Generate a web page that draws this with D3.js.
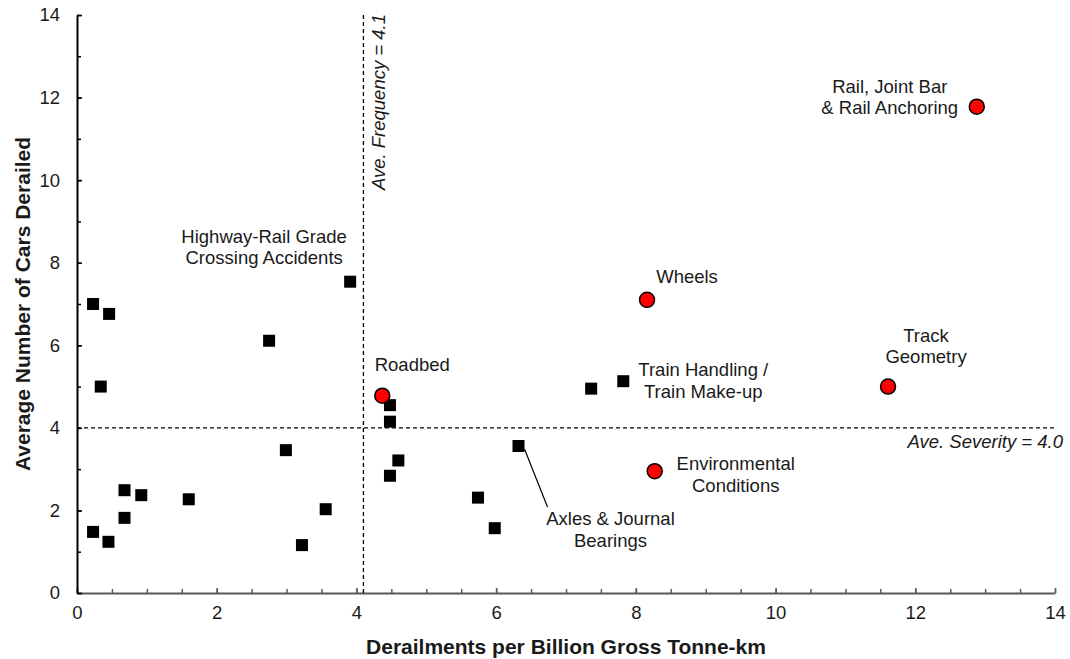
<!DOCTYPE html>
<html>
<head>
<meta charset="utf-8">
<script src="https://cdn.jsdelivr.net/npm/d3@7"></script>
<style>
  body { margin: 0; background: #fff; }
  text { font-family: Arial, "Liberation Sans", sans-serif; fill: #1a1a1a; }
</style>
</head>
<body>
<svg width="1070" height="659"></svg>
<script>
// other causes (black squares)
var squareX = [0.23, 0.46, 0.34, 0.23, 0.45, 0.68, 0.68, 0.92, 1.60, 2.75, 2.99, 3.22, 3.56, 3.91,
  4.48, 4.48, 4.60, 4.48, 5.74, 5.98, 6.32, 7.36, 7.82];
var squareY = [7.00, 6.76, 5.00, 1.48, 1.24, 2.49, 1.82, 2.37, 2.27, 6.11, 3.46, 1.16, 2.03, 7.54,
  4.55, 4.15, 3.21, 2.84, 2.31, 1.57, 3.56, 4.95, 5.13];

// infrastructure & rolling stock causes (red circles)
var circleNames = ["Roadbed", "Wheels", "Rail, Joint Bar & Rail Anchoring", "Track Geometry", "Environmental Conditions"];
var circleX = [4.37, 8.16, 12.88, 11.61, 8.27];
var circleY = [4.78, 7.10, 11.78, 5.00, 2.95];

var aveFrequency = 4.1;
var aveSeverity = 4.0;

var xTicks = [0, 2, 4, 6, 8, 10, 12, 14];
var yTicks = [0, 2, 4, 6, 8, 10, 12, 14];

// label text, which point it sits next to, and pixel offset from that point
var notes = [
  { kind: "c", i: 0, lines: ["Roadbed"], dx: 30, dy: -25 },
  { kind: "c", i: 1, lines: ["Wheels"], dx: 40, dy: -17 },
  { kind: "c", i: 2, lines: ["Rail, Joint Bar", "& Rail Anchoring"], dx: -87, dy: -14 },
  { kind: "c", i: 3, lines: ["Track", "Geometry"], dx: 38, dy: -45 },
  { kind: "c", i: 4, lines: ["Environmental", "Conditions"], dx: 81, dy: -1 },
  { kind: "s", i: 13, lines: ["Highway-Rail Grade", "Crossing Accidents"], dx: -86, dy: -39 },
  { kind: "s", i: 22, lines: ["Train Handling /", "Train Make-up"], dx: 80, dy: -5 },
  { kind: "s", i: 20, lines: ["Axles & Journal", "Bearings"], dx: 92, dy: 79, leader: [6, 3, 29, 61] }
];

var svg = d3.select("svg");
var plotL = 77, plotR = 1055, plotT = 15, plotB = 593;

var x = d3.scaleLinear().domain([0, 14]).range([plotL, plotR]);
var y = d3.scaleLinear().domain([0, 14]).range([plotB, plotT]);

// minor ticks
svg.append("g")
  .attr("transform", "translate(0," + plotB + ")")
  .call(d3.axisBottom(x).tickValues(d3.range(0, 14.01, 0.5)).tickSize(-4).tickFormat(""))
  .call(function (g) { g.select(".domain").remove(); })
  .selectAll("line").attr("stroke", "#595959").attr("stroke-width", 1.5);

svg.append("g")
  .attr("transform", "translate(" + plotL + ",0)")
  .call(d3.axisLeft(y).tickValues(d3.range(0, 14.01, 1)).tickSize(-4).tickFormat(""))
  .call(function (g) { g.select(".domain").remove(); })
  .selectAll("line").attr("stroke", "#000").attr("stroke-width", 1.5);

// major ticks + labels
var xAxis = svg.append("g")
  .attr("transform", "translate(0," + plotB + ")")
  .call(d3.axisBottom(x).tickValues(xTicks).tickSize(-5).tickPadding(13).tickSizeOuter(0));
xAxis.select(".domain").attr("stroke", "#595959").attr("stroke-width", 2);
xAxis.selectAll("line").attr("stroke", "#595959").attr("stroke-width", 1.5);
xAxis.selectAll("text").style("font-size", "18.5px").style("fill", "#1a1a1a")
  .style("font-family", "Arial, 'Liberation Sans', sans-serif");

var yAxis = svg.append("g")
  .attr("transform", "translate(" + plotL + ",0)")
  .call(d3.axisLeft(y).tickValues(yTicks).tickSize(-5).tickPadding(17).tickSizeOuter(0));
yAxis.select(".domain").attr("stroke", "#000").attr("stroke-width", 2);
yAxis.selectAll("line").attr("stroke", "#000").attr("stroke-width", 1.5);
yAxis.selectAll("text").style("font-size", "18.5px").style("fill", "#1a1a1a")
  .style("font-family", "Arial, 'Liberation Sans', sans-serif");

// average lines
svg.append("line")
  .attr("x1", x(aveFrequency)).attr("x2", x(aveFrequency))
  .attr("y1", y(0)).attr("y2", y(14))
  .attr("stroke", "#000").attr("stroke-width", 1.3).attr("stroke-dasharray", "4,3");

svg.append("line")
  .attr("x1", x(0)).attr("x2", x(14))
  .attr("y1", y(aveSeverity)).attr("y2", y(aveSeverity))
  .attr("stroke", "#000").attr("stroke-width", 1.3).attr("stroke-dasharray", "4,3");

svg.append("text")
  .attr("transform", "translate(" + (x(aveFrequency) + 22) + "," + (y(14) - 1) + ") rotate(-90)")
  .attr("text-anchor", "end")
  .style("font-size", "18.5px").style("font-style", "italic")
  .text("Ave. Frequency = " + aveFrequency.toFixed(1));

svg.append("text")
  .attr("x", 1063).attr("y", y(aveSeverity) + 20)
  .attr("text-anchor", "end")
  .style("font-size", "18.5px").style("font-style", "italic")
  .text("Ave. Severity = " + aveSeverity.toFixed(1));

// points
var sq = 12;
svg.append("g")
  .selectAll("rect")
  .data(squareX)
  .enter()
  .append("rect")
  .attr("x", function (d) { return x(d) - sq / 2; })
  .attr("y", function (d, i) { return y(squareY[i]) - sq / 2; })
  .attr("width", sq).attr("height", sq)
  .attr("fill", "#000");

svg.append("g")
  .selectAll("circle")
  .data(circleX)
  .enter()
  .append("circle")
  .attr("cx", function (d) { return x(d); })
  .attr("cy", function (d, i) { return y(circleY[i]); })
  .attr("r", 7.5)
  .attr("fill", "#ff0000")
  .attr("stroke", "#000")
  .attr("stroke-width", 1.5);

// annotations
notes.forEach(function (n) {
  var px = n.kind === "c" ? x(circleX[n.i]) : x(squareX[n.i]);
  var py = n.kind === "c" ? y(circleY[n.i]) : y(squareY[n.i]);
  var t = svg.append("text")
    .attr("text-anchor", "middle")
    .style("font-size", "18.5px");
  n.lines.forEach(function (s, k) {
    t.append("tspan").attr("x", px + n.dx).attr("y", py + n.dy + k * 21.5).text(s);
  });
  if (n.leader) {
    svg.append("line")
      .attr("x1", px + n.leader[0]).attr("y1", py + n.leader[1])
      .attr("x2", px + n.leader[2]).attr("y2", py + n.leader[3])
      .attr("stroke", "#000").attr("stroke-width", 1.2);
  }
});

// axis titles
svg.append("text")
  .attr("x", (plotL + plotR) / 2).attr("y", 654)
  .attr("text-anchor", "middle")
  .style("font-size", "21px").style("font-weight", "bold")
  .text("Derailments per Billion Gross Tonne-km");

svg.append("text")
  .attr("transform", "translate(30," + (plotT + plotB) / 2 + ") rotate(-90)")
  .attr("text-anchor", "middle")
  .style("font-size", "21px").style("font-weight", "bold")
  .text("Average Number of Cars Derailed");
</script>
</body>
</html>
